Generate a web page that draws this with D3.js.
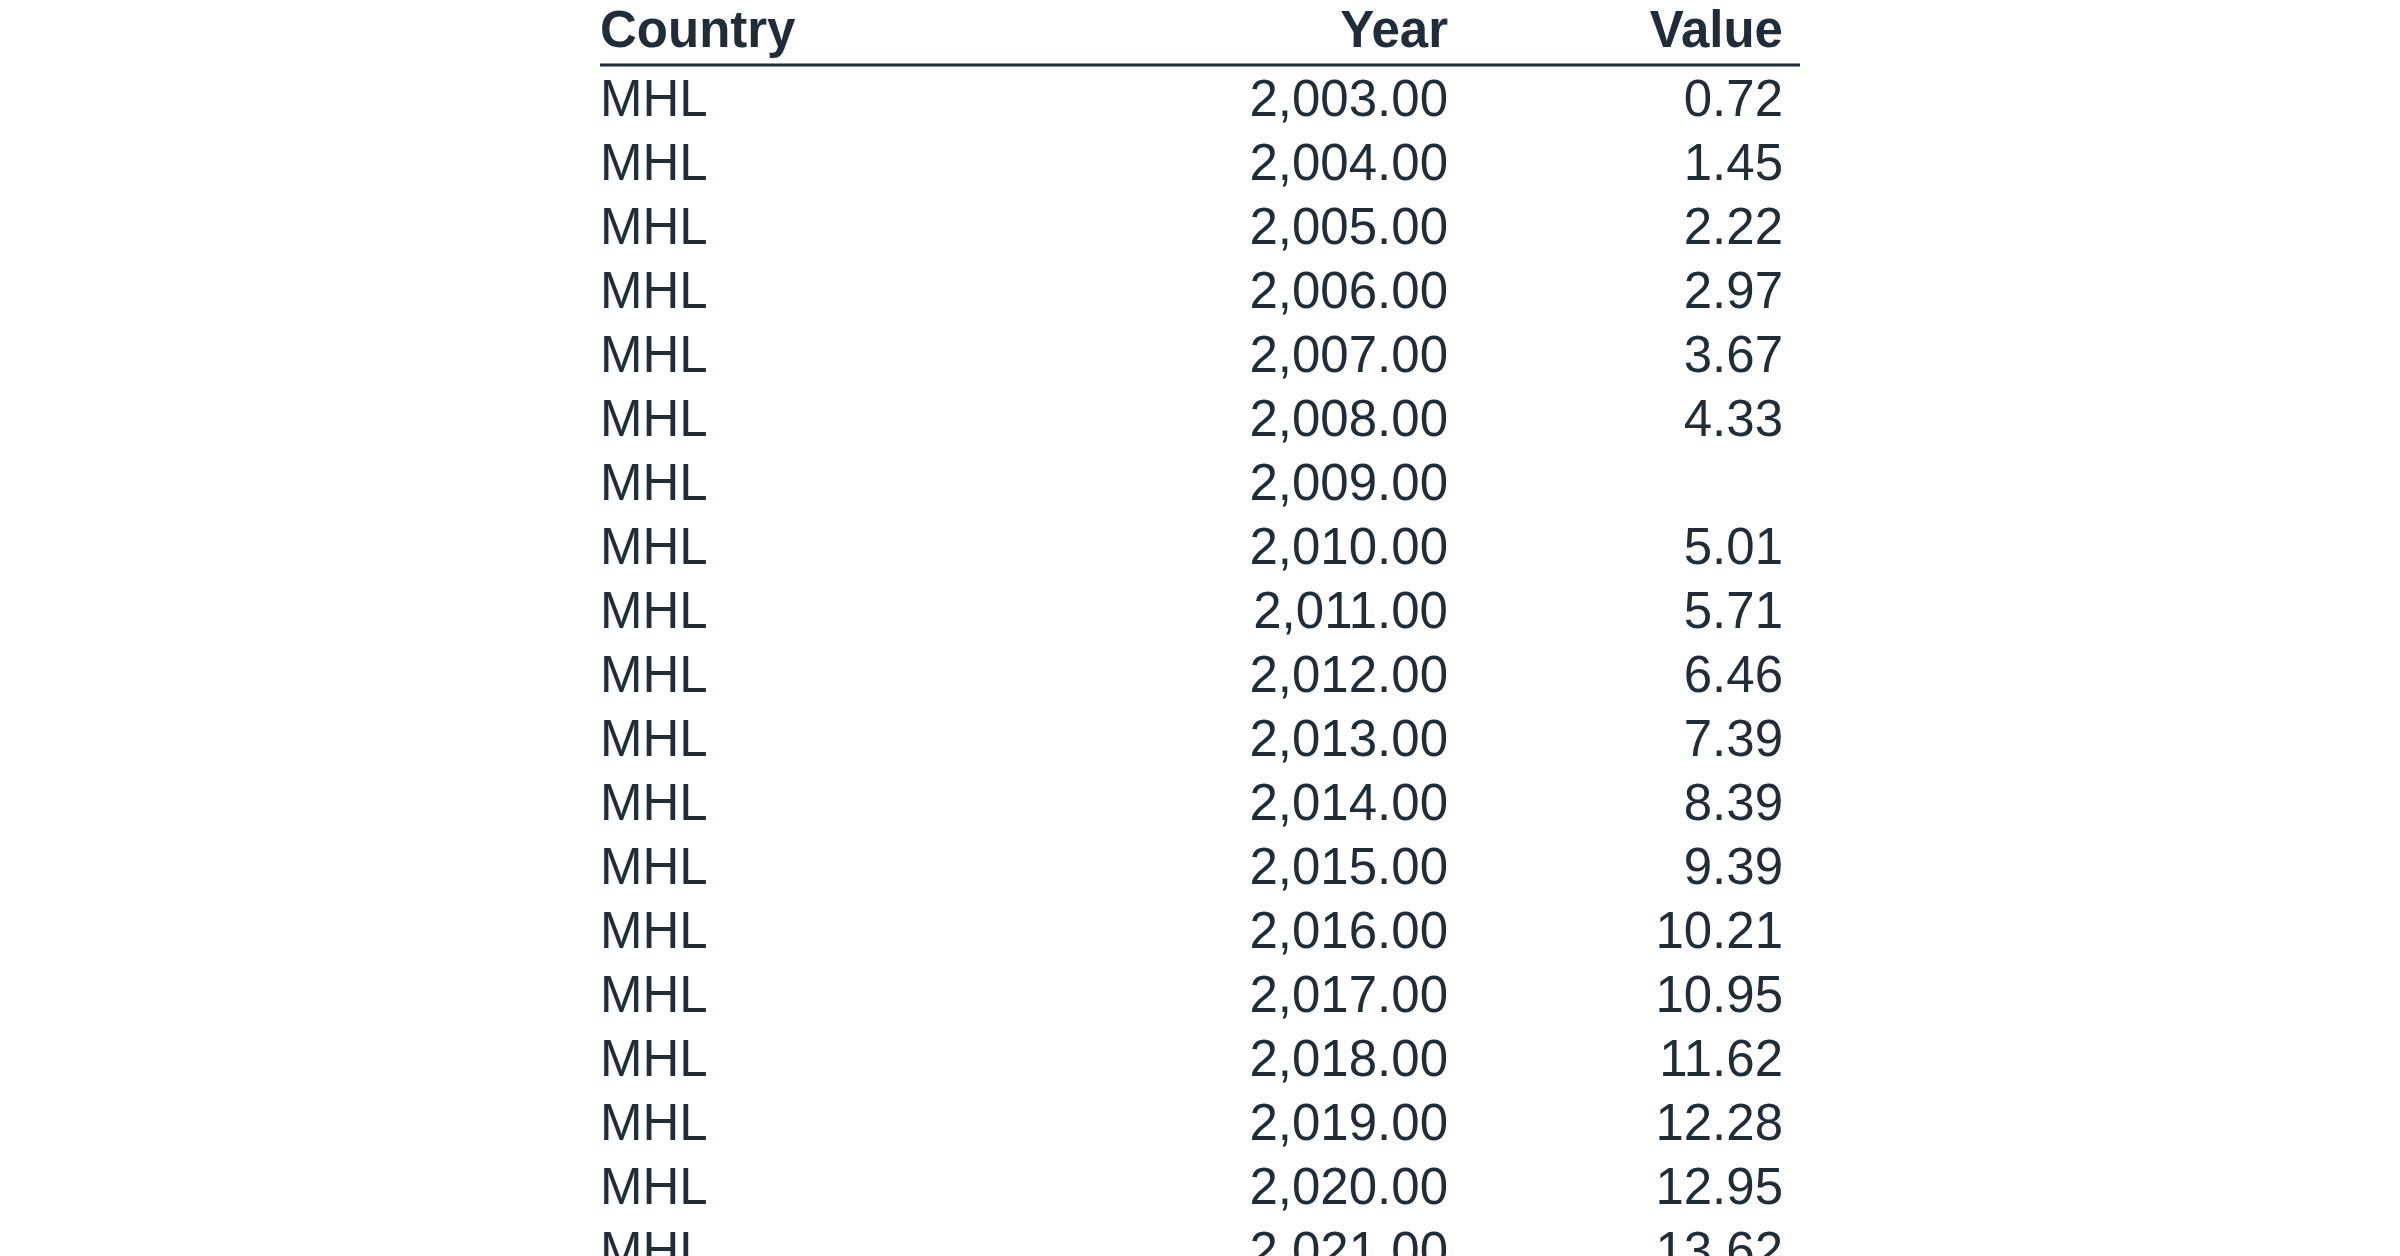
<!DOCTYPE html>
<html>
<head>
<meta charset="utf-8">
<script src="https://cdn.jsdelivr.net/npm/d3@7"></script>
<style>
  body { margin: 0; background: #fff; }
  text { font-family: "Liberation Sans", Arial, sans-serif; fill: #1f2d3a; }
</style>
</head>
<body>
<div class="container"></div>
<script>
// table data
const columns = ["Country", "Year", "Value"];
const countries = ["MHL","MHL","MHL","MHL","MHL","MHL","MHL","MHL","MHL","MHL","MHL","MHL","MHL","MHL","MHL","MHL","MHL","MHL","MHL"];
const years = [2003,2004,2005,2006,2007,2008,2009,2010,2011,2012,2013,2014,2015,2016,2017,2018,2019,2020,2021];
const values = [0.72,1.45,2.22,2.97,3.67,4.33,null,5.01,5.71,6.46,7.39,8.39,9.39,10.21,10.95,11.62,12.28,12.95,13.62];

const width = 2400, height = 1256;
const svg = d3.select(".container").append("svg")
  .attr("width", width).attr("height", height);

const fmt = d3.format(",.2f");
const left = 600, right = 1800;
const colX = [600, 1448, 1783];
const anchors = ["start", "end", "end"];

// row baselines
const y = d3.scaleLinear().domain([0, 1]).range([116, 180]);

// header
svg.selectAll("text.head").data(columns).enter().append("text")
  .attr("class", "head")
  .attr("x", (d, i) => colX[i])
  .attr("y", 47)
  .attr("text-anchor", (d, i) => anchors[i])
  .style("font-size", "51px")
  .style("font-weight", "bold")
  .text(d => d);

svg.append("line")
  .attr("x1", left).attr("x2", right)
  .attr("y1", 65).attr("y2", 65)
  .attr("stroke", "#1f2d3a").attr("stroke-width", 3);

const rows = years.map((yr, i) => [countries[i], fmt(yr), values[i] == null ? "" : fmt(values[i])]);

const g = svg.selectAll("g.row").data(rows).enter().append("g")
  .attr("class", "row")
  .attr("transform", (d, i) => "translate(0," + y(i) + ")");

g.selectAll("text").data(d => d).enter().append("text")
  .attr("x", (d, i) => colX[i])
  .attr("text-anchor", (d, i) => anchors[i])
  .style("font-size", "51px")
  .text(d => d);
</script>
</body>
</html>
